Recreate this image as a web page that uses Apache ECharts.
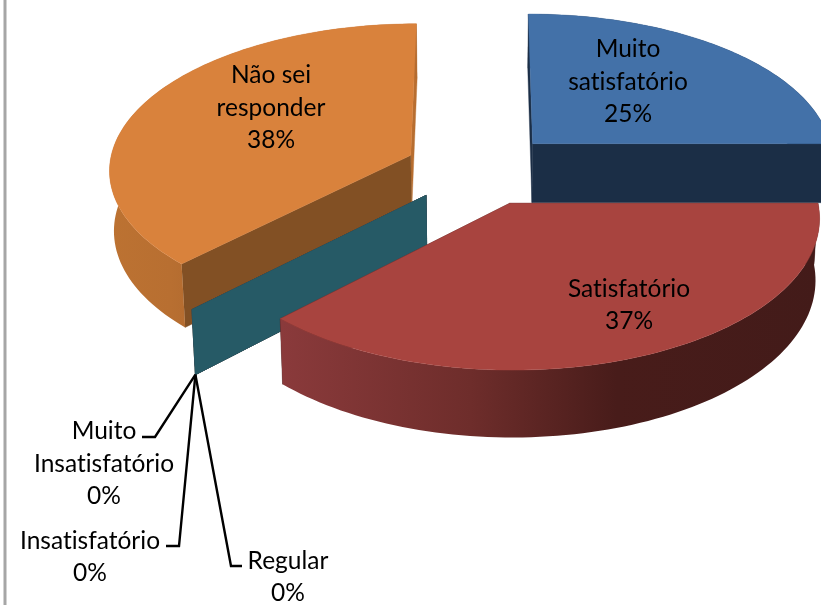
<!DOCTYPE html>
<html><head><meta charset="utf-8">
<style>html,body{margin:0;padding:0;background:#fff}#c{width:821px;height:605px}</style>
<script src="https://cdn.jsdelivr.net/npm/echarts@6/dist/echarts.min.js"></script>
</head><body><div id="c"></div>
<script>
// --- data
const categories = ['Muito\nsatisfatório','Satisfatório','Regular','Insatisfatório','Muito\nInsatisfatório','Não sei\nresponder'];
const values = [25,37.4,0,0,0,37.6];
// --- styles
const topColors  = ['#4371A8','#A8443F','#7F9C45','#6A4F8B','#265A66','#D9823C'];
const startCutColors = ['#1B2E46','#431B19','#4A5C28','#3E2E52','#265A66','#825024'];
const endCutColors = ['#1B2E46','#431B19','#4A5C28','#3E2E52','#265A66','#B86E30'];
const wallStops = [
  [[0,'#1B2E46'],[1,'#1B2E46']],
  [[0,'#8A3A3B'],[0.35,'#6E2D2B'],[0.62,'#481C1A'],[1,'#431B19']],
  [[0,'#4A5C28'],[1,'#4A5C28']],
  [[0,'#3E2E52'],[1,'#3E2E52']],
  [[0,'#265A66'],[1,'#265A66']],
  [[0,'#BC7232'],[0.75,'#B86F31'],[1,'#B46C30']]
];
const wallRange = [[532,821],[282,821],[0,1],[0,1],[0,1],[110,190]];
const paintOrder = [0,5,2,3,4,1];
const labelAt = [[628,82],[629,305],[288,577],[90,557],[104,464],[271,108]];
const leaders = {2:[[231,566],[242,566]],3:[[179,546],[166,546]],4:[[155,437],[142,437]]};
// --- projection
const P = {cx:480,cy:169,R:302,Q:145.5,p:0.089,h:60,conv:0.012,explode:0.25,font:'24.5px Lato',lh:32.5};
// plain letter forms, no "ti" ligature
const origGetContext = HTMLCanvasElement.prototype.getContext;
HTMLCanvasElement.prototype.getContext = function(){
  const ctx = origGetContext.apply(this, arguments);
  if (ctx && 'textRendering' in ctx) ctx.textRendering = 'optimizeSpeed';
  return ctx;
};
const total = values.reduce((a,b)=>a+b,0);
const slices = []; let acc = 0;
values.forEach((v,i)=>{const a0=acc/total*2*Math.PI; acc+=v; const a1=acc/total*2*Math.PI; slices.push({a0,a1,mid:(a0+a1)/2});});
function proj(s,a,r,z){
  const eu=P.explode*Math.sin(s.mid), ev=-P.explode*Math.cos(s.mid);
  const u=r*Math.sin(a)+eu, v=-r*Math.cos(a)+ev;
  const k=1/(1-P.p*v);
  let x=P.cx+u*P.R*k, y=P.cy+v*P.Q*k;
  if(z){ x=P.cx+(x-P.cx)*(1-P.conv); y+=P.h*k; }
  return [x,y];
}
function arc(s,z){const pts=[];const n=90;for(let j=0;j<=n;j++){pts.push(proj(s,s.a0+(s.a1-s.a0)*j/n,1,z));}return pts;}
function poly(points,fill){return {type:'polygon',shape:{points},style:{fill,stroke:typeof fill==='string'?fill:null,lineWidth:typeof fill==='string'?0.4:0}};}
function face(s,a,fill){return poly([proj(s,a,1,0),proj(s,a,0,0),proj(s,a,0,1),proj(s,a,1,1)],fill);}

const chart = echarts.init(document.getElementById('c'),null,{renderer:'canvas'});
chart.setOption({
  animation:false,
  backgroundColor:'#fff',
  graphic:[{type:'rect',shape:{x:3.5,y:0,width:3,height:605},style:{fill:'#A6A6A6'},silent:true}],
  series:[
  {type:'custom',coordinateSystem:'none',silent:true,
   data:paintOrder.map(i=>[i,values[i]]),
   renderItem(params,api){
     const i=api.value(0), s=slices[i], ch=[];
     ch.push(face(s,s.a1,endCutColors[i]));
     ch.push(face(s,s.a0,startCutColors[i]));
     if(values[i]>0){
       const [g0,g1]=wallRange[i];
       const grad=new echarts.graphic.LinearGradient(g0,0,g1,0,wallStops[i].map(([o,c])=>({offset:o,color:c})),true);
       ch.push(poly(arc(s,0).concat(arc(s,1).reverse()),grad));
       ch.push(poly([proj(s,0,0,0)].concat(arc(s,0)),topColors[i]));
     }
     return {type:'group',children:ch};
   }},
  {type:'custom',coordinateSystem:'none',silent:true,z:5,
   data:categories.map((c,i)=>[i,values[i]]),
   renderItem(params,api){
     const i=api.value(0), ch=[], s=slices[i];
     if(leaders[i]){
       const o=proj(s,s.a0,1,1);
       ch.push({type:'polyline',shape:{points:[o].concat(leaders[i])},style:{stroke:'#000',lineWidth:2.4,fill:null}});
     }
     const pct=Math.round(values[i]/total*100)+'%';
     ch.push({type:'text',x:labelAt[i][0],y:labelAt[i][1],style:{text:categories[i]+'\n'+pct,font:P.font,lineHeight:P.lh,fill:'#000',align:'center',verticalAlign:'middle'}});
     return {type:'group',children:ch};
   }}
  ]
});
</script></body></html>
